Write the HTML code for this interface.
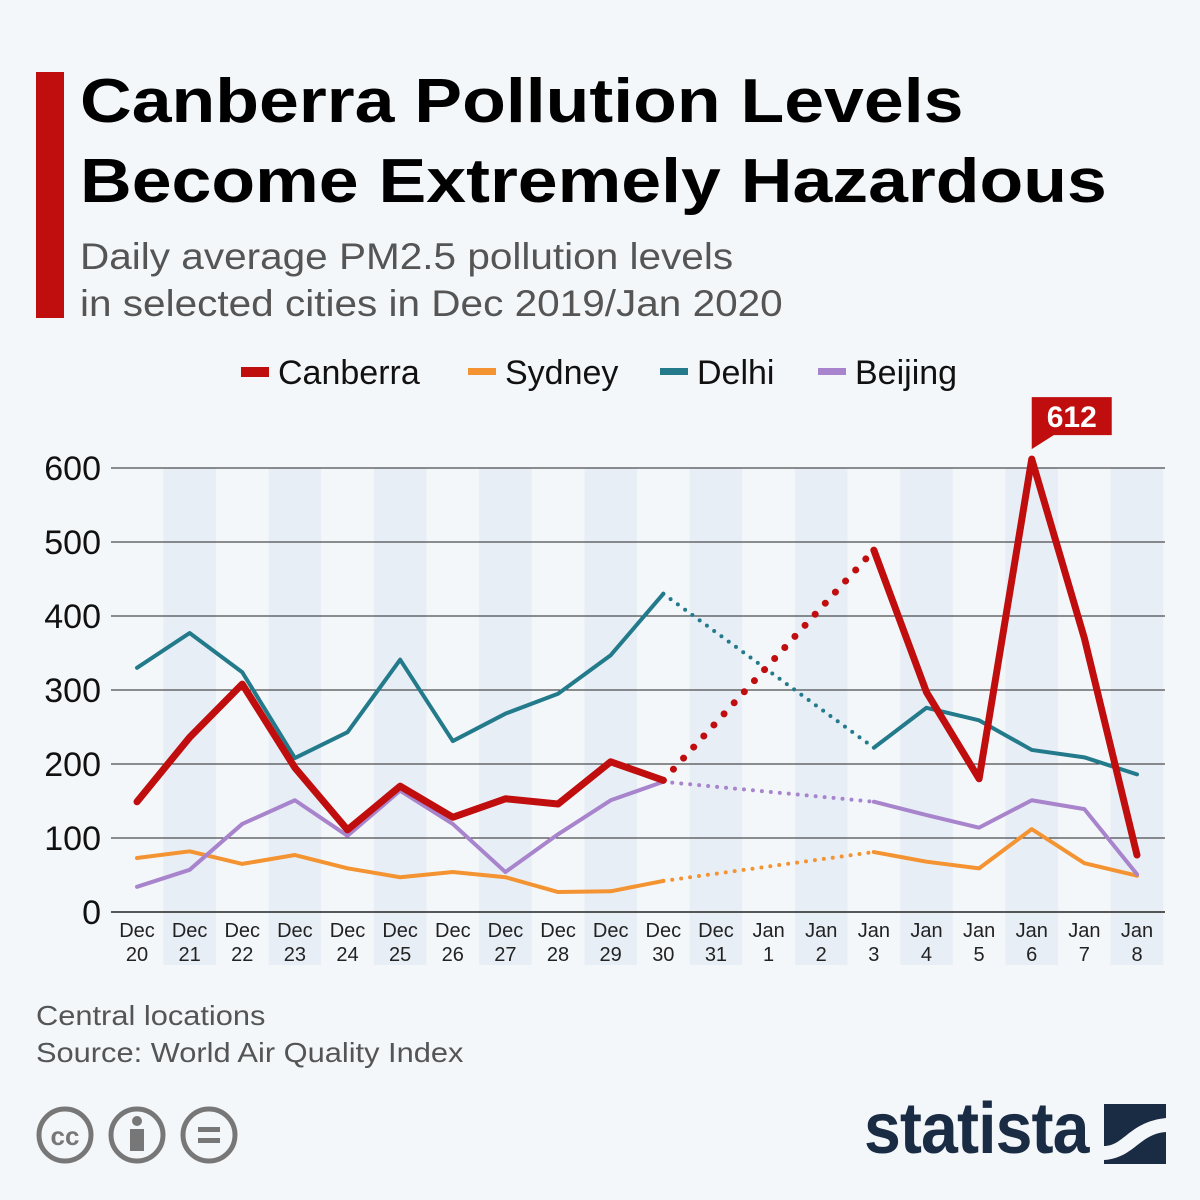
<!DOCTYPE html>
<html><head><meta charset="utf-8"><style>
body{margin:0;width:1200px;height:1200px;background:#f4f7fa;font-family:"Liberation Sans","DejaVu Sans",sans-serif;overflow:hidden;position:relative}
.t{position:absolute;white-space:nowrap;transform-origin:0 0}
</style></head><body>
<div style="position:absolute;left:36px;top:72px;width:28px;height:246px;background:#c00d0d"></div>
<div class="t" style="left:80px;top:62px;font-size:62px;font-weight:bold;line-height:80px;color:#000;transform:scaleX(1.155)">Canberra Pollution Levels<br>Become Extremely Hazardous</div>
<div class="t" style="left:80px;top:233px;font-size:37px;line-height:47px;color:#555;transform:scaleX(1.095)">Daily average PM2.5 pollution levels<br>in selected cities in Dec 2019/Jan 2020</div>
<svg id="chart" width="1200" height="1200" style="position:absolute;left:0;top:0"></svg>
<div class="t" style="left:36px;top:997px;font-size:28px;line-height:37px;color:#555;transform:scaleX(1.1)">Central locations<br>Source: World Air Quality Index</div>
<svg width="260" height="80" style="position:absolute;left:30px;top:1098px">
<g fill="none" stroke="#777" stroke-width="5"><circle cx="35" cy="37" r="26"/><circle cx="107" cy="37" r="26"/><circle cx="179" cy="37" r="26"/></g>
<text x="35" y="47" font-size="26" font-weight="bold" fill="#777" text-anchor="middle" font-family="Liberation Sans">cc</text>
<circle cx="107" cy="23" r="5" fill="#777"/><rect x="100" y="31" width="14" height="22" fill="#777"/>
<rect x="168" y="29" width="22" height="5" fill="#777"/><rect x="168" y="40" width="22" height="5" fill="#777"/>
</svg>
<div class="t" style="left:864px;top:1088px;font-size:72px;font-weight:bold;color:#1a2b44;letter-spacing:-1px;transform:scaleX(0.92)">statista</div>
<svg width="62" height="60" style="position:absolute;left:1104px;top:1104px"><rect width="62" height="60" fill="#1a2b44"/><path d="M0 42 C20 42 25 18 62 14 L62 28 C35 30 30 54 0 56Z" fill="#f4f7fa"/></svg>
<script>
const categories=["Dec 20","Dec 21","Dec 22","Dec 23","Dec 24","Dec 25","Dec 26","Dec 27","Dec 28","Dec 29","Dec 30","Dec 31","Jan 1","Jan 2","Jan 3","Jan 4","Jan 5","Jan 6","Jan 7","Jan 8"];
const canberra=[149,236,308,195,111,170,128,153,146,203,178,null,null,null,489,297,180,612,370,77];
const sydney=[73,82,65,77,59,47,54,47,27,28,42,null,null,null,81,68,59,112,66,49];
const delhi=[330,377,324,208,243,341,231,268,295,347,430,null,null,null,222,276,259,219,209,186];
const beijing=[34,57,119,151,103,164,119,54,105,151,176,null,null,null,149,131,114,151,139,51];
const yTicks=[0,100,200,300,400,500,600];
const seriesNames=["Canberra","Sydney","Delhi","Beijing"];
const colors=["#c00d0d","#f39331","#227a8a","#a784cb"];
const widths=[7,4,4,4];
const svg=document.getElementById('chart');
const NS='http://www.w3.org/2000/svg';
const x=i=>137+i*(1000/19);
const y=v=>912-v*0.74;
function mk(tag,a,p){const e=document.createElementNS(NS,tag);for(const k in a)e.setAttribute(k,a[k]);(p||svg).appendChild(e);return e;}
categories.forEach((c,i)=>{
  if(i%2===1){const r=mk('rect',{x:x(i)-26.3,y:y(600),width:52.6,height:965-y(600),fill:'#e8eef6'});
  
  }
  const p=c.split(' ');
  const t=mk('text',{x:x(i),y:937,'font-size':20,'text-anchor':'middle',fill:'#222'});
  
  
  t.innerHTML=`<tspan x="${x(i)}">${p[0]}</tspan><tspan x="${x(i)}" dy="24">${p[1]}</tspan>`;
});
yTicks.forEach(v=>{
  const l=mk('line',{x1:111,x2:1165,y1:y(v),y2:y(v),stroke:'#222','stroke-width':v===0?1.5:1});
  
  
  const t=mk('text',{x:101,y:y(v)+12,'font-size':34,'text-anchor':'end',fill:'#111'});
  
  
  t.textContent=v;
});
[sydney,beijing,delhi,canberra].forEach(d=>{
  const si=[canberra,sydney,delhi,beijing].indexOf(d);
  const col=colors[si],w=widths[si];
  let segs=[],cur=[];
  d.forEach((v,i)=>{if(v===null){if(cur.length)segs.push(cur);cur=[];}else cur.push([x(i),y(v)]);});
  if(cur.length)segs.push(cur);
  segs.forEach(s=>{const pl=mk('polyline',{points:s.map(p=>p.join(',')).join(' '),fill:'none',stroke:col,'stroke-width':w,'stroke-linejoin':'round','stroke-linecap':'round'});
  
  });
  for(let k=0;k<segs.length-1;k++){const a=segs[k][segs[k].length-1],b=segs[k+1][0];
  const dl=mk('line',{x1:a[0],y1:a[1],x2:b[0],y2:b[1],stroke:col,'stroke-width':w,'stroke-dasharray':si===0?'0 15':'0 9','stroke-linecap':'round'});
  
  }
});
const pi=canberra.indexOf(Math.max(...canberra.filter(v=>v!==null)));
const px=x(pi),py=y(canberra[pi]);
const lab=mk('path',{d:`M${px} ${py-10} L${px} ${py-62} L${px+80} ${py-62} L${px+80} ${py-24} L${px+22} ${py-24} Z`,fill:'#c00d0d'});


const lt=mk('text',{x:px+40,y:py-32,'font-size':30,'font-weight':'bold',fill:'#fff','text-anchor':'middle'});


lt.textContent=canberra[pi];
const lx=[241,468,660,818];
seriesNames.forEach((n,i)=>{
  const r=mk('rect',{x:lx[i],y:i===0?367:368,width:28,height:i===0?10:7,fill:colors[i]});
  
  
  const t=mk('text',{x:lx[i]+37,y:384,'font-size':34,fill:'#111'});
  
  
  t.textContent=n;
});
</script>
</body></html>
